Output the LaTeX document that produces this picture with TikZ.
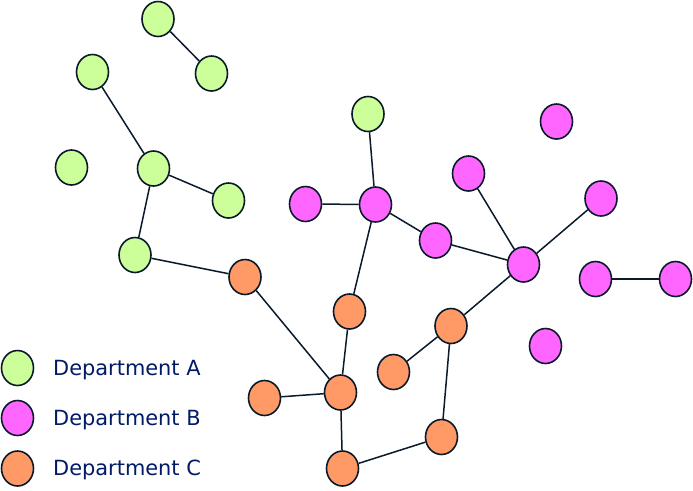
\documentclass[tikz,border=0pt]{standalone}
\usepackage{fontspec}
\setmainfont{DejaVu Sans}
\usetikzlibrary{shapes.geometric}
\definecolor{deptA}{HTML}{CCFF99}
\definecolor{deptB}{HTML}{FF66FF}
\definecolor{deptC}{HTML}{FF9966}
\definecolor{edgecol}{HTML}{0A1A2A}
\definecolor{labelcol}{HTML}{001A66}
\begin{document}
\begin{tikzpicture}[x=1pt,y=-1pt]
		\tikzstyle{unit}=[draw=edgecol,line width=1.6pt,shape=ellipse,minimum width=32pt,minimum height=35pt,inner sep=0pt]
		\tikzstyle{link}=[draw=edgecol,line width=1.5pt]
		\tikzstyle{legend}=[anchor=base west,inner sep=0pt,text=labelcol,font=\fontsize{20.9}{24}\selectfont]
		\useasboundingbox (0,0) rectangle (693,490);

		\node[unit,fill=deptA](a1) at (158,19){};
		\node[unit,fill=deptA](a2) at (211.5,73.5){};
		\node[unit,fill=deptA](a3) at (92.5,72){};
		\node[unit,fill=deptA](a4) at (153.5,168.5){};
		\node[unit,fill=deptA](a5) at (71.5,167.5){};
		\node[unit,fill=deptA](a6) at (228.5,200.5){};
		\node[unit,fill=deptA](a7) at (135,255){};
		\node[unit,fill=deptA](a8) at (368,114){};

		\node[unit,fill=deptB](b1) at (556.5,121.5){};
		\node[unit,fill=deptB](b2) at (468.5,173.5){};
		\node[unit,fill=deptB](b3) at (601,198.5){};
		\node[unit,fill=deptB](b4) at (305.5,204){};
		\node[unit,fill=deptB](b5) at (375.5,204.5){};
		\node[unit,fill=deptB](b6) at (435.5,240.5){};
		\node[unit,fill=deptB](b7) at (523.5,264.5){};
		\node[unit,fill=deptB](b8) at (595.5,279){};
		\node[unit,fill=deptB](b9) at (675.5,279){};
		\node[unit,fill=deptB](b10) at (545.5,346){};

		\node[unit,fill=deptC](c1) at (245,277){};
		\node[unit,fill=deptC](c2) at (349.5,311.5){};
		\node[unit,fill=deptC](c3) at (451,326){};
		\node[unit,fill=deptC](c4) at (393.5,372){};
		\node[unit,fill=deptC](c5) at (264.5,398){};
		\node[unit,fill=deptC](c6) at (340.5,392.5){};
		\node[unit,fill=deptC](c7) at (441.5,437){};
		\node[unit,fill=deptC](c8) at (342.5,468.5){};

		\draw[link] (a1) -- (a2);
		\draw[link] (a3) -- (a4);
		\draw[link] (a4) -- (a6);
		\draw[link] (a4) -- (a7);
		\draw[link] (a7) -- (c1);
		\draw[link] (c1) -- (c6);
		\draw[link] (a8) -- (b5);
		\draw[link] (b4) -- (b5);
		\draw[link] (b5) -- (b6);
		\draw[link] (b5) -- (c2);
		\draw[link] (b6) -- (b7);
		\draw[link] (b2) -- (b7);
		\draw[link] (b3) -- (b7);
		\draw[link] (b7) -- (c3);
		\draw[link] (b8) -- (b9);
		\draw[link] (c2) -- (c6);
		\draw[link] (c5) -- (c6);
		\draw[link] (c6) -- (c8);
		\draw[link] (c8) -- (c7);
		\draw[link] (c7) -- (c3);
		\draw[link] (c3) -- (c4);

		\node[unit,fill=deptA](la) at (17.5,368){};
		\node[unit,fill=deptB](lb) at (17.5,418){};
		\node[unit,fill=deptC](lc) at (17.5,468.5){};
		\node[legend](ta) at (53,375.5){Department A};
		\node[legend](tb) at (53,425.5){Department B};
		\node[legend](tc) at (53,475.5){Department C};
	\end{tikzpicture}
\end{document}
